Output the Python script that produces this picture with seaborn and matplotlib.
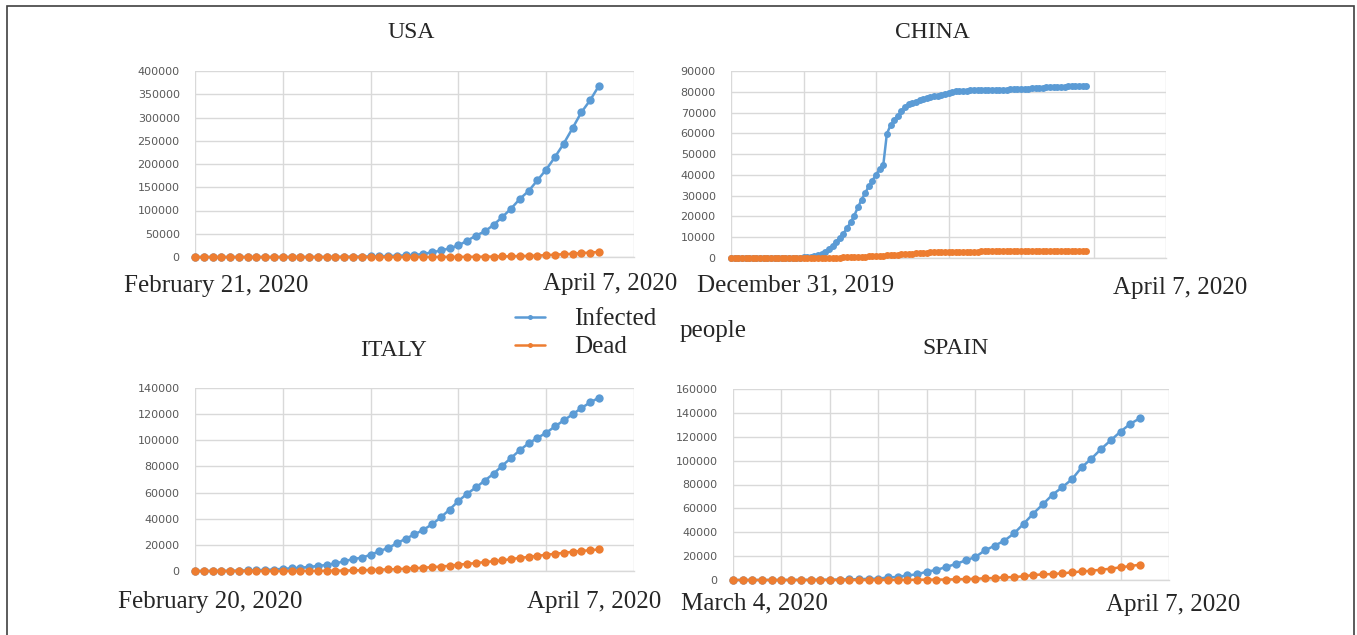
import numpy as np
import matplotlib
matplotlib.use("Agg")
import matplotlib.pyplot as plt
import seaborn as sns

# ------------- DATA -------------
usa_infected = [15, 15, 15, 35, 35, 53, 57, 60, 62, 70, 75, 100, 125, 160, 220, 330,
                430, 560, 760, 1000, 1300, 1700, 2200, 2700, 3500, 4600, 6400, 10000,
                14000, 18500, 25000, 35000, 46000, 55000, 69000, 86000, 104000, 125000,
                142000, 165000, 188000, 215000, 244000, 277000, 311000, 337000, 368000]
usa_dead = [0, 0, 0, 0, 0, 0, 0, 0, 0, 1, 6, 9, 11, 12, 14, 17, 21, 22, 28, 36, 40, 47,
            54, 63, 85, 108, 118, 200, 244, 307, 350, 470, 600, 780, 1000, 1300, 1700,
            2200, 2500, 3200, 4000, 5100, 6000, 7100, 8400, 9600, 10900]

china_infected = [27, 27, 27, 44, 44, 59, 59, 59, 59, 59, 59, 41, 41, 41, 41, 41, 45, 62,
                  121, 198, 291, 440, 571, 830, 1287, 1975, 2744, 4515, 5974, 7711, 9692,
                  11791, 14380, 17205, 20438, 24324, 28018, 31161, 34546, 37198, 40171,
                  42638, 44653, 59804, 63851, 66492, 68500, 70548, 72436, 74185, 74576,
                  75077, 76077, 76392, 77042, 77262, 77780, 78191, 78630, 78959, 79389,
                  79968, 80174, 80302, 80422, 80565, 80710, 80813, 80859, 80904, 80924,
                  80955, 80981, 81007, 81029, 81048, 81077, 81116, 81151, 81235, 81300,
                  81416, 81498, 81600, 81747, 81846, 81960, 82078, 82213, 82341, 82447,
                  82500, 82530, 82560, 82590, 82610, 82630, 82650, 82660]
china_dead = [0, 0, 0, 0, 0, 0, 0, 0, 0, 0, 0, 1, 1, 1, 1, 1, 2, 2, 3, 3, 6, 9, 17, 25,
              41, 56, 80, 106, 132, 170, 213, 259, 304, 361, 425, 490, 563, 636, 722,
              811, 908, 1016, 1113, 1259, 1380, 1523, 1665, 1770, 1868, 2004, 2118, 2236,
              2345, 2442, 2592, 2663, 2715, 2744, 2788, 2835, 2870, 2912, 2943, 2981,
              3012, 3042, 3070, 3097, 3119, 3136, 3158, 3169, 3176, 3189, 3199, 3213,
              3226, 3237, 3245, 3248, 3255, 3261, 3270, 3277, 3281, 3287, 3292, 3295,
              3300, 3304, 3305, 3312, 3318, 3322, 3326, 3330, 3333, 3335, 3335]

italy_infected = [3, 20, 79, 157, 229, 323, 470, 655, 889, 1128, 1694, 2036, 2502, 3089,
                  3858, 4636, 5883, 7375, 9172, 10149, 12462, 15113, 17660, 21157, 24747,
                  27980, 31506, 35713, 41035, 47021, 53578, 59138, 63927, 69176, 74386,
                  80589, 86498, 92472, 97689, 101739, 105792, 110574, 115242, 119827,
                  124632, 128948, 132547]
italy_dead = [0, 1, 2, 3, 7, 10, 12, 17, 21, 29, 34, 52, 79, 107, 148, 197, 233, 366,
              463, 631, 827, 1016, 1266, 1441, 1809, 2158, 2503, 2978, 3405, 4032, 4825,
              5476, 6077, 6820, 7503, 8165, 9134, 10023, 10779, 11591, 12428, 13155,
              13915, 14681, 15362, 15887, 16523]

spain_infected = [2, 6, 13, 15, 32, 45, 84, 120, 165, 222, 259, 400, 500, 673, 1000,
                  1100, 2200, 2500, 3900, 4700, 7000, 8400, 10900, 13400, 16400, 19200,
                  24800, 28700, 32900, 39000, 47100, 55700, 63600, 71600, 77800, 84500,
                  94500, 101700, 109800, 117100, 124300, 130800, 135500]
spain_dead = [0, 0, 0, 0, 0, 0, 0, 0, 0, 2, 3, 5, 10, 17, 28, 35, 54, 55, 133, 195, 288,
              342, 400, 600, 800, 1100, 1400, 1700, 2200, 2500, 3100, 4200, 4700, 5000,
              5600, 6400, 7200, 7800, 8600, 9500, 10600, 11700, 12800]

start_labels = ["February 21, 2020", "December 31, 2019", "February 20, 2020", "March 4, 2020"]
end_label = "April 7, 2020"
titles = ["USA", "CHINA", "ITALY", "SPAIN"]

# ------------- STYLE -------------
sns.set_style("white")
W, H = 1357, 635
BLUE = "#5B9BD5"
ORANGE = "#ED7D31"
GRID = "#D9D9D9"
SERIF = ["Liberation Serif", "DejaVu Serif"]

fig = plt.figure(figsize=(W / 100, H / 100), dpi=100)


def px_axes(l, t, r, b):
    return fig.add_axes([l / W, 1 - b / H, (r - l) / W, (b - t) / H])


def draw_panel(ax, infected, dead, xmax, xstep, ymax, ystep, msize):
    x = np.arange(len(infected))
    sns.lineplot(x=x, y=infected, ax=ax, color=BLUE, marker="o", markersize=msize,
                 markeredgewidth=0, linewidth=1.8, clip_on=False, zorder=3)
    sns.lineplot(x=x, y=dead, ax=ax, color=ORANGE, marker="o", markersize=msize,
                 markeredgewidth=0, linewidth=1.8, clip_on=False, zorder=4)
    ax.set_xlim(0, xmax)
    ax.set_ylim(0, ymax)
    ax.set_xticks(np.arange(0, xmax + 1, xstep))
    ax.set_xticklabels([])
    ax.set_yticks(np.arange(0, ymax + 1, ystep))
    ax.set_yticklabels([str(int(v)) for v in np.arange(0, ymax + 1, ystep)])
    ax.grid(True, color=GRID, linewidth=1)
    ax.set_axisbelow(True)
    for s in ["top", "right", "left"]:
        ax.spines[s].set_visible(False)
    ax.spines["bottom"].set_color(GRID)
    ax.spines["bottom"].set_linewidth(1)
    ax.tick_params(axis="x", length=6, color=GRID, direction="out", width=1)
    ax.tick_params(axis="y", length=0, pad=11, labelsize=8, labelcolor="#595959")
    ax.set_xlabel("")
    ax.set_ylabel("")


ax_usa = px_axes(195, 71, 634, 257)
draw_panel(ax_usa, usa_infected, usa_dead, 50, 10, 400000, 50000, 6)
ax_china = px_axes(731, 71, 1166, 258)
draw_panel(ax_china, china_infected, china_dead, 120, 20, 90000, 10000, 5)
ax_italy = px_axes(195, 388, 634, 571)
draw_panel(ax_italy, italy_infected, italy_dead, 50, 10, 140000, 20000, 6)
ax_spain = px_axes(733, 389, 1169, 580)
draw_panel(ax_spain, spain_infected, spain_dead, 45, 5, 160000, 20000, 6)

# titles
for (cx, cy), t in zip([(411, 33), (932, 33), (393, 350), (955, 348)], titles):
    fig.text(cx / W, 1 - cy / H, t, family=SERIF, fontsize=17, ha="center", va="center")

# date labels under each panel
starts = [(124, 286), (697, 285), (118, 602), (681, 603)]
ends = [(677, 284), (1247, 288), (661, 602), (1240, 605)]
for (sx, sy), lab in zip(starts, start_labels):
    fig.text(sx / W, 1 - sy / H, lab, family=SERIF, fontsize=18, ha="left", va="center")
for ex, ey in ends:
    fig.text(ex / W, 1 - ey / H, end_label, family=SERIF, fontsize=18, ha="right", va="center")

# legend
handles = ax_usa.get_lines()[:2]
leg = fig.legend(handles, ["Infected", "Dead"], loc="center left",
                 bbox_to_anchor=(502 / W, 1 - 333 / H), frameon=False, borderpad=0,
                 prop={"family": SERIF, "size": 18}, handlelength=1.2,
                 handletextpad=1.2, labelspacing=0.22, markerscale=0.6)
fig.text(680 / W, 1 - 331 / H, "people", family=SERIF, fontsize=18, ha="left", va="center")

# outer frame
frame = plt.Rectangle((7 / W, -0.01), (1354 - 7) / W, 1 - 6 / H + 0.01,
                      transform=fig.transFigure, fill=False, edgecolor="#404040",
                      linewidth=1.2)
fig.patches.append(frame)

fig.savefig("out.png", dpi=100)
